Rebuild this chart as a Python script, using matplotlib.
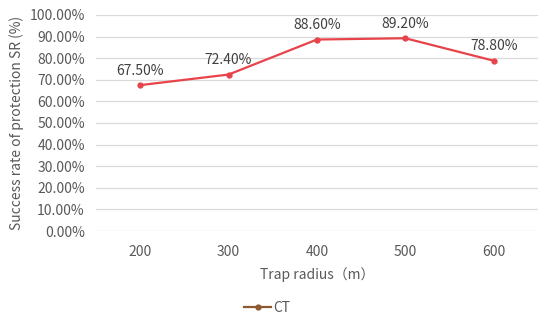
import matplotlib
matplotlib.use('Agg')
import matplotlib.pyplot as plt
from matplotlib.ticker import FuncFormatter

plt.rcParams['font.family'] = ['Noto Sans CJK SC', 'DejaVu Sans']

radius = ['200', '300', '400', '500', '600']
sr = [67.5, 72.4, 88.6, 89.2, 78.8]
labels = ['67.50%', '72.40%', '88.60%', '89.20%', '78.80%']

fig = plt.figure(figsize=(5.5, 3.24), dpi=100)
ax = fig.add_axes([0.1745, 0.287, 0.8035, 0.667])

x = list(range(len(radius)))
ax.plot(x, sr, color='#e8434b', lw=1.6, marker='o', ms=3.5, zorder=3)
ax.plot([], [], color='#8c5a2e', lw=1.6, marker='o', ms=3.5, label='CT')

for xi, yi, t in zip(x, sr, labels):
    ax.text(xi, yi + 3.5, t, ha='center', va='bottom', fontsize=10, color='#404040')

ax.set_xlim(-0.5, len(radius) - 0.5)
ax.set_ylim(0, 100)
ax.set_yticks(range(0, 101, 10))
ax.yaxis.set_major_formatter(FuncFormatter(lambda v, p: f'{v:.2f}%'))
ax.set_xticks(x)
ax.set_xticklabels(radius)
ax.grid(axis='y', color='#d9d9d9', lw=0.9)
ax.set_axisbelow(True)
for s in ax.spines.values():
    s.set_visible(False)
ax.tick_params(length=0, labelsize=10, colors='#595959', pad=8)
ax.tick_params(axis='x', pad=10)

ax.set_xlabel('Trap radius（m）', fontsize=10, color='#595959', labelpad=6)
ax.set_ylabel('Success rate of protection SR (%)', fontsize=10, color='#595959', labelpad=4)

leg = fig.legend(loc='center', bbox_to_anchor=(0.485, 0.05), frameon=False,
                 fontsize=10, handlelength=2, handletextpad=0.1, labelcolor='#595959')

fig.savefig('out.png', dpi=100)
